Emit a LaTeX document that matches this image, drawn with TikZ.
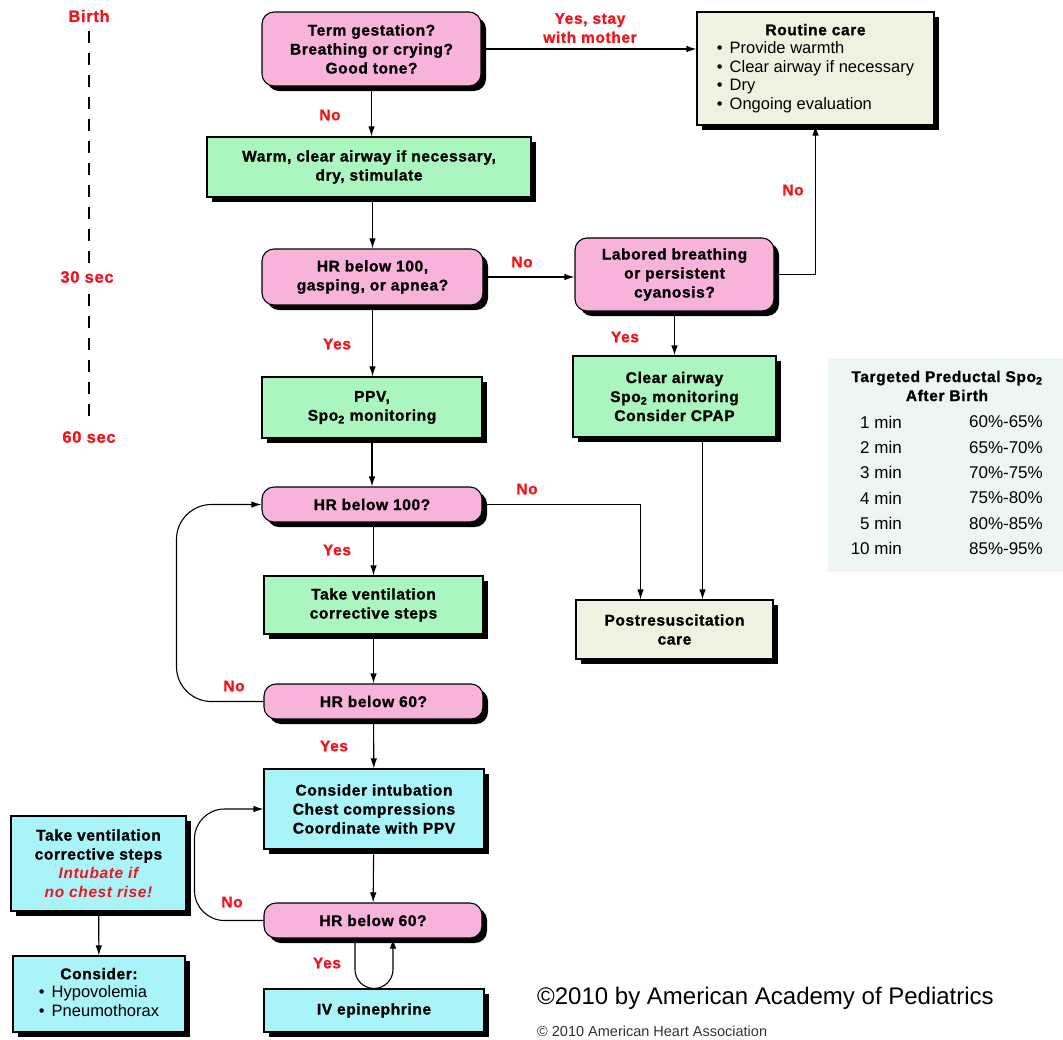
\documentclass[tikz,border=0pt]{standalone}
\usepackage{fontspec}
\setmainfont{Liberation Sans}
\newfontfamily\widesans{Liberation Sans}[LetterSpace=4.0, BoldFeatures={FakeBold=1.2}]
\usetikzlibrary{positioning,arrows.meta,shadows}
\definecolor{askpink}{HTML}{F8B3DA}
\definecolor{actgreen}{HTML}{ABF5BE}
\definecolor{advcyan}{HTML}{A9F4F9}
\definecolor{carebeige}{HTML}{EEF3E1}
\definecolor{tablegray}{HTML}{EEF5F5}
\definecolor{answerred}{HTML}{F2141C}
\newcommand\boxfont{\widesans\bfseries\fontsize{15.5}{19}\selectfont}
\newcommand\itemfont{\rmfamily\fontsize{16.5}{18.5}\selectfont}
\newcommand\spo{Spo\textsubscript{2}}
\tikzset{
	box/.style={draw, line width=1.1pt, align=center, font=\boxfont, inner sep=2pt,
		drop shadow={shadow xshift=5pt, shadow yshift=-5pt, fill=black, opacity=1}},
	query/.style={box, fill=askpink, rounded corners=12pt},
	act/.style={box, fill=actgreen},
	adv/.style={box, fill=advcyan},
	care/.style={box, fill=carebeige},
	flow/.style={line width=1.1pt, -{Latex[length=10pt,width=6.5pt]}},
	answer/.style={text=answerred, font=\boxfont, align=center},
	timeline/.style={line width=2.6pt, dash pattern=on 12pt off 10pt},
	cell/.style={font=\rmfamily\fontsize{17}{20}\selectfont, inner sep=0pt},
}
\begin{document}
\begin{tikzpicture}[x=1pt,y=-1pt]
		\useasboundingbox (0,0) rectangle (1063,1039);

		% time line
		\node[answer, font=\boxfont\fontsize{16.5}{19}\selectfont] (birth) at (89,16) {Birth};
		\node[answer, font=\boxfont\fontsize{16.5}{19}\selectfont] (t30) at (87,277) {30 sec};
		\node[answer, font=\boxfont\fontsize{16.5}{19}\selectfont] (t60) at (89,437) {60 sec};
		\draw[timeline, shorten <=5pt, shorten >=3pt] (birth.south) -- (birth.south |- t30.north);
		\draw[timeline, shorten <=8pt, shorten >=3pt] (birth.south |- t30.south) -- (birth.south |- t60.north);

		% main column
		\node[query, minimum width=219pt, minimum height=74pt] (term) at (371.5,49) {Term gestation?\\Breathing or crying?\\Good tone?};
		\node[act, minimum width=324pt, minimum height=60pt] (warm) at (369,167) {Warm, clear airway if necessary,\\dry, stimulate};
		\node[query, minimum width=221pt, minimum height=56pt] (hrg) at (372.5,277) {HR below 100,\\gasping, or apnea?};
		\node[act, minimum width=220pt, minimum height=61pt] (ppv) at (372,407.5) {PPV,\\\spo\ monitoring};
		\node[query, minimum width=220pt, minimum height=35pt] (hra) at (372,504.5) {HR below 100?};
		\node[act, minimum width=219pt, minimum height=58pt] (tvs) at (373.5,605) {Take ventilation\\corrective steps};
		\node[query, minimum width=219pt, minimum height=35pt] (hrb) at (373.5,701.5) {HR below 60?};
		\node[adv, minimum width=220pt, minimum height=80pt] (cons) at (374,809) {Consider intubation\\Chest compressions\\Coordinate with PPV};
		\node[query, minimum width=218pt, minimum height=35pt] (hrc) at (373,920.5) {HR below 60?};
		\node[adv, minimum width=220pt, minimum height=43pt] (epi) at (374,1010.5) {IV epinephrine};

		% right column
		\node[care, minimum width=237pt, minimum height=113pt, font=\itemfont] (routine) at (815.5,68.5)
			{\begin{tabular}{@{}l@{}}\multicolumn{1}{@{}c@{}}{\boxfont Routine care}\\
			\textbullet\hspace{7pt}Provide warmth\\ \textbullet\hspace{7pt}Clear airway if necessary\\
			\textbullet\hspace{7pt}Dry\\ \textbullet\hspace{7pt}Ongoing evaluation\end{tabular}};
		\node[query, minimum width=199pt, minimum height=73pt] (labored) at (674.5,274.5) {Labored breathing\\or persistent\\cyanosis?};
		\node[act, minimum width=203pt, minimum height=81pt] (clear) at (674.5,396.5) {Clear airway\\\spo\ monitoring\\Consider CPAP};
		\node[care, minimum width=197pt, minimum height=59pt] (post) at (674.5,629.5) {Postresuscitation\\care};

		% left column
		\node[adv, minimum width=175pt, minimum height=95pt] (tvl) at (98.5,863.5)
			{Take ventilation\\corrective steps\\{\color{answerred}\itshape Intubate if}\\{\color{answerred}\itshape no chest rise!}};
		\node[adv, minimum width=172pt, minimum height=76pt, font=\itemfont] (hypo) at (99,994)
			{\begin{tabular}{@{}l@{}}\multicolumn{1}{@{}c@{}}{\boxfont Consider:}\\
			\textbullet\hspace{7pt}Hypovolemia\\ \textbullet\hspace{7pt}Pneumothorax\end{tabular}};

		% saturation table
		\node[fill=tablegray, minimum width=235pt, minimum height=214pt, inner sep=0pt] (sattab) at (945.5,465) {};
		\node[font=\boxfont, align=center, inner sep=0pt] (sattitle) at (947,386) {Targeted Preductal \spo\\After Birth};
		\foreach \m/\s [count=\i] in {1/60\%-65\%, 2/65\%-70\%, 3/70\%-75\%, 4/75\%-80\%, 5/80\%-85\%, 10/85\%-95\%}{
			\node[cell, anchor=east] (min\i) at (902,{396.7+25.3*\i}) {\m\ min};
			\node[cell, anchor=east] (spo\i) at (1043,{396.7+25.3*\i}) {\s};
		}

		% connectors
		\draw[flow] (term) -- (term -| routine.west);
		\draw[flow] (term.south) -- (term.south |- warm.north);
		\draw[flow] (hrg.north |- warm.south) -- (hrg.north);
		\draw[flow] (hrg.east) -- (hrg.east -| labored.west);
		\draw[flow] (labored.east) -| (routine.south);
		\draw[flow] (labored.south) -- (labored.south |- clear.north);
		\draw[flow] (hrg.south) -- (hrg.south |- ppv.north);
		\draw[flow] (ppv) -- (hra);
		\draw[flow] (hra.east) -| ([xshift=-34pt]post.north);
		\draw[flow] ([xshift=28pt]clear.south) -- ([xshift=28pt]clear.south |- post.north);
		\draw[flow] (tvs.north |- hra.south) -- (tvs.north);
		\draw[flow] (tvs) -- (hrb);
		\draw[flow, rounded corners=35pt] (hrb.west) -- ++(-87,0) |- (hra.west);
		\draw[flow] (hrb) -- (cons);
		\draw[flow] (cons) -- (hrc);
		\draw[flow, rounded corners=30pt] (hrc.west) -- ++(-69,0) |- (cons.west);
		\draw[flow, rounded corners=19pt] ([xshift=-18pt]hrc.south) -- ([xshift=-18pt]hrc.south |- epi.north)
			-- ([xshift=20pt]hrc.south |- epi.north) -- ([xshift=20pt]hrc.south);
		\draw[flow] (tvl) -- (hypo);

		% answers
		\node[answer] (yesstay) at (590,28) {Yes, stay\\with mother};
		\node[answer] (no1) at (330,115) {No};
		\node[answer] (no2) at (522,262) {No};
		\node[answer] (no3) at (793,190) {No};
		\node[answer] (yes1) at (625,337) {Yes};
		\node[answer] (yes2) at (337,344) {Yes};
		\node[answer] (no4) at (527,489) {No};
		\node[answer] (yes3) at (337,550) {Yes};
		\node[answer] (no5) at (234,686) {No};
		\node[answer] (yes4) at (334,746) {Yes};
		\node[answer] (no6) at (232,902) {No};
		\node[answer] (yes5) at (327,963) {Yes};

		% credits
		\node[anchor=west, inner sep=0pt, font=\fontsize{24}{28}\selectfont] (aap) at (537,998) {©2010 by American Academy of Pediatrics};
		\node[anchor=west, inner sep=0pt, font=\fontsize{14.5}{17}\selectfont, text=black!80] (aha) at (537,1031) {© 2010 American Heart Association};
\end{tikzpicture}
\end{document}
